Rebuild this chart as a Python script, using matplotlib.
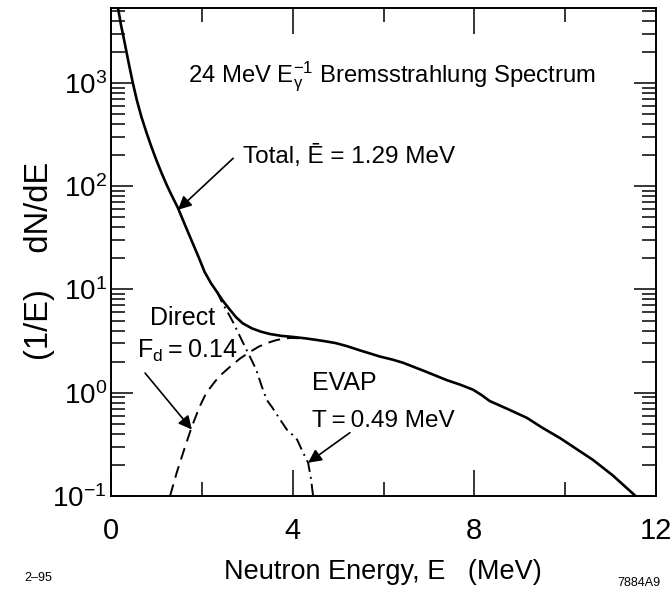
import numpy as np
import matplotlib
matplotlib.use("Agg")
from matplotlib import pyplot as plt
from matplotlib.ticker import LogLocator, MultipleLocator, NullFormatter

plt.rcParams['font.family'] = ['Liberation Sans', 'DejaVu Sans']
plt.rcParams['mathtext.fontset'] = 'custom'
plt.rcParams['mathtext.rm'] = 'Liberation Sans'
plt.rcParams['mathtext.it'] = 'Liberation Sans'
plt.rcParams['mathtext.bf'] = 'Liberation Sans:bold'

# total neutron spectrum (solid)
total_E = [0.154, 0.22, 0.30, 0.39, 0.48, 0.57, 0.67, 0.78, 0.89, 1.00,
           1.11, 1.23, 1.35, 1.47, 1.62, 1.77, 1.92, 2.06, 2.20, 2.33,
           2.45, 2.60, 2.75, 2.90, 3.10, 3.30, 3.50, 3.75, 4.00, 4.30,
           4.53, 4.75, 4.95, 5.20, 5.48, 5.70, 5.92, 6.20, 6.43, 6.90,
           7.40, 7.68, 7.97, 8.15, 8.34, 8.75, 9.16, 9.50, 9.89, 10.25,
           10.61, 11.05, 11.55]
total_N = [5320, 3630, 2455, 1550, 1000, 676, 468, 331, 240, 178,
           135, 102, 79, 62, 43, 30, 21, 14.8, 11.5, 9.5,
           7.9, 6.5, 5.4, 4.7, 4.2, 3.9, 3.7, 3.55, 3.47, 3.35,
           3.24, 3.13, 3.02, 2.82, 2.57, 2.40, 2.24, 2.09, 1.95, 1.62,
           1.32, 1.20, 1.07, 0.955, 0.83, 0.69, 0.57, 0.457, 0.363, 0.285,
           0.224, 0.158, 0.1]

# direct component (dashed)
direct_E = [1.30, 1.45, 1.62, 1.78, 1.95, 2.10, 2.30, 2.45, 2.62, 2.84,
            3.06, 3.25, 3.43, 3.65, 3.94, 4.30]
direct_N = [0.1, 0.17, 0.29, 0.47, 0.73, 1.00, 1.30, 1.53, 1.78, 2.14,
            2.48, 2.79, 3.02, 3.24, 3.39, 3.35]

# evaporation component (dash-dot)
evap_E = [2.33, 2.45, 2.57, 2.69, 2.84, 2.99, 3.10, 3.20, 3.32, 3.43,
          3.55, 3.70, 3.87, 4.00, 4.10, 4.20, 4.34, 4.40, 4.45]
evap_N = [9.6, 7.4, 6.0, 4.8, 3.5, 2.57, 2.05, 1.66, 1.15, 0.85,
          0.72, 0.57, 0.44, 0.39, 0.35, 0.28, 0.21, 0.15, 0.1]

fig = plt.figure(figsize=(6.72, 5.92), dpi=100)
ax = fig.add_axes([111/672, 96/592, 545/672, 488/592])

ax.plot(total_E, total_N, color='black', lw=1.9)
ax.plot(direct_E, direct_N, color='black', lw=1.4, dashes=(6.2, 3.6))
ax.plot(evap_E, evap_N, color='black', lw=1.4, dashes=(6.2, 2.6, 1.0, 2.6))

ax.set_yscale('log')
ax.set_xlim(0, 12)
ax.set_ylim(0.1, 5300)

ax.xaxis.set_major_locator(MultipleLocator(4))
ax.xaxis.set_minor_locator(MultipleLocator(2))
ax.yaxis.set_major_locator(LogLocator(base=10, numticks=20))
ax.yaxis.set_minor_locator(LogLocator(base=10, subs=np.arange(2, 10), numticks=20))
ax.yaxis.set_minor_formatter(NullFormatter())

ax.tick_params(axis='both', which='both', direction='in', top=True, right=True,
               width=1.1, colors='black')
ax.tick_params(axis='x', which='major', length=18.5, labelsize=21, pad=15)
ax.tick_params(axis='x', which='minor', length=10)
ax.tick_params(axis='y', which='major', length=16, labelsize=20, pad=3)
ax.tick_params(axis='y', which='minor', length=10)
for sp in ax.spines.values():
    sp.set_linewidth(1.4)

# labels inside the frame
ax.text(1.70, 1000, r"24 MeV $\mathrm{E}_{\gamma}^{-1}$ Bremsstrahlung Spectrum",
        fontsize=17.2, ha='left', va='baseline')
ax.text(2.91, 168, "Total, Ē = 1.29 MeV", fontsize=17.5, ha='left', va='baseline')
ax.text(0.86, 4.5, "Direct", fontsize=18, ha='left', va='baseline')
ax.text(0.57, 2.17, "F$_\\mathrm{d}$\u2009=\u20090.14", fontsize=18,
        ha='left', va='baseline')
ax.text(4.43, 1.06, "EVAP", fontsize=18, ha='left', va='baseline')
ax.text(4.43, 0.47, "T\u2009=\u20090.49 MeV", fontsize=17.5, ha='left', va='baseline')

arrow = dict(arrowstyle='-|>', mutation_scale=20, lw=1.2, color='black',
             shrinkA=0, shrinkB=0)
ax.annotate('', xy=(1.475, 59), xytext=(2.69, 186), arrowprops=arrow)
ax.annotate('', xy=(1.78, 0.44), xytext=(0.75, 1.55), arrowprops=arrow)
ax.annotate('', xy=(4.34, 0.21), xytext=(5.26, 0.41), arrowprops=arrow)

fig.text(383/672, 1 - 572/592, "Neutron Energy, E   (MeV)", fontsize=19.5,
         ha='center', va='center')
fig.text(40/672, 1 - 261/592, "(1/E)    dN/dE", fontsize=23.5, rotation=90,
         ha='center', va='center')
fig.text(38/672, 1 - 578/592, "2–95", fontsize=9, ha='center', va='center')
fig.text(639/672, 1 - 583/592, "7884A9", fontsize=9, ha='center', va='center')

fig.savefig("out.png", dpi=100)
